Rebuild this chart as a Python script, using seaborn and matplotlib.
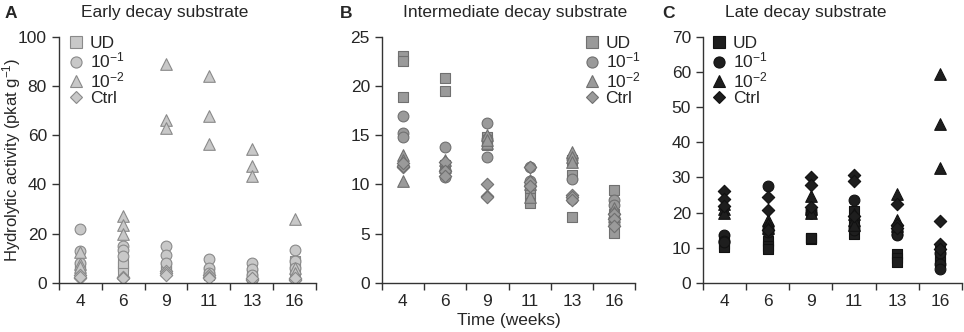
import numpy as np
import pandas as pd
import matplotlib
matplotlib.use('Agg')
import matplotlib.pyplot as plt
from matplotlib.lines import Line2D
from matplotlib.ticker import FixedLocator
import seaborn as sns

weeks = ["4", "6", "9", "11", "13", "16"]
treatments = ["UD", "10$^{-1}$", "10$^{-2}$", "Ctrl"]

# early decay substrate (panel A), three replicates per week
early_ud = [[6, 7, 5], [7, 5, 8], [6, 7, 5], [4, 5, 3], [3, 2, 4], [9, 8, 5]]
early_m1 = [[22, 13, 8], [15, 13.5, 11], [15, 11.5, 8], [9.5, 6, 4], [8, 5.5, 3], [13.5, 9, 6]]
early_m2 = [[12.5, 7.5, 6.5], [27, 23.5, 20], [89, 66, 63], [84, 68, 56.5], [54.5, 47.5, 43.5], [26, 6, 4]]
early_ctrl = [[3, 2, 2.5], [2.5, 2, 2], [5, 4, 3], [3, 2.5, 2], [1.5, 1, 2], [1.5, 1, 2]]

# intermediate decay substrate (panel B)
inter_ud = [[23.1, 22.5, 18.9], [20.8, 19.5, 12.0], [14.8, 14.0, 14.5], [9.1, 8.1, 9.6], [12.5, 11.0, 6.7], [9.4, 7.0, 5.1]]
inter_m1 = [[17.0, 15.2, 14.8], [13.8, 11.5, 10.8], [16.2, 14.6, 12.8], [11.8, 10.4, 9.9], [12.6, 10.6, 8.5], [8.4, 7.9, 6.0]]
inter_m2 = [[13.0, 12.5, 10.4], [12.5, 12.0, 11.8], [15.0, 14.2, 14.5], [10.5, 10.0, 8.7], [13.3, 12.8, 12.3], [7.6, 7.2, 6.8]]
inter_ctrl = [[11.8, 11.9, 12.2], [12.3, 11.4, 10.9], [10.0, 8.8, 8.7], [11.8, 10.2, 9.8], [8.9, 8.7, 8.4], [7.0, 6.5, 5.8]]

# late decay substrate (panel C)
late_ud = [[12.5, 11.0, 10.2], [12.0, 10.5, 9.7], [12.7, 12.5, 12.9], [20.4, 17.8, 14.0], [8.3, 7.0, 6.0], [9.0, 7.5, 6.0]]
late_m1 = [[13.5, 12.0, 11.5], [27.5, 14.4, 16.0], [20.6, 20.0, 19.8], [23.7, 16.0, 15.0], [15.0, 14.0, 13.5], [8.5, 5.5, 4.0]]
late_m2 = [[22.5, 21.0, 20.0], [17.8, 16.8, 15.5], [24.6, 21.0, 19.8], [19.5, 18.0, 16.5], [25.3, 17.8, 16.3], [59.3, 45.3, 32.6]]
late_ctrl = [[26.0, 24.0, 22.0], [24.4, 20.6, 15.0], [30.0, 27.9, 21.5], [30.7, 29.1, 19.0], [22.5, 16.5, 15.5], [17.6, 11.1, 9.5]]


def to_long(series):
    rows = []
    for trt, vals in zip(treatments, series):
        for wk, reps in zip(weeks, vals):
            for v in reps:
                rows.append({"week": wk, "treatment": trt, "activity": v})
    return pd.DataFrame(rows)


sns.set_style("ticks")
plt.rcParams['font.family'] = ['Liberation Sans', 'DejaVu Sans']
plt.rcParams['mathtext.default'] = 'regular'

markers = {"UD": "s", "10$^{-1}$": "o", "10$^{-2}$": "^", "Ctrl": "D"}
sizes = {"s": 55, "o": 60, "^": 70, "D": 40}

panels = [
    ("A", "Early decay substrate", [early_ud, early_m1, early_m2, early_ctrl],
     100, 20, "#c8c8c8", "#8a8a8a", "upper left", (0.04, 1.005)),
    ("B", "Intermediate decay substrate", [inter_ud, inter_m1, inter_m2, inter_ctrl],
     25, 5, "#9a9a9a", "#707070", "upper right", (1.02, 1.005)),
    ("C", "Late decay substrate", [late_ud, late_m1, late_m2, late_ctrl],
     70, 10, "#1e1e1e", "#111111", "upper left", (0.035, 1.005)),
]
positions = [[0.061, 0.148, 0.267, 0.741],
             [0.396, 0.148, 0.263, 0.741],
             [0.729, 0.148, 0.269, 0.741]]
letter_x = [5, 340, 662]
title_x = [81, 403, 725]

fig = plt.figure(figsize=(9.64, 3.32), dpi=100)

for i, (letter, title, series, ymax, ystep, fill, edge, loc, anchor) in enumerate(panels):
    ax = fig.add_axes(positions[i])
    df = to_long(series)
    for trt in treatments:
        sub = df[df["treatment"] == trt]
        m = markers[trt]
        sns.scatterplot(data=sub, x="week", y="activity", marker=m, s=sizes[m],
                        color=fill, edgecolor=edge, linewidth=0.8, ax=ax, legend=False)
    ax.set_xlim(-0.5, len(weeks) - 0.5)
    ax.set_ylim(0, ymax)
    ax.set_yticks(np.arange(0, ymax + 1, ystep))
    ax.xaxis.set_minor_locator(FixedLocator(np.arange(-0.5, len(weeks), 1.0)))
    ax.tick_params(axis="x", which="major", length=0, labelsize=12.5, pad=8)
    ax.tick_params(axis="x", which="minor", length=5, width=1, color="#333333")
    ax.tick_params(axis="y", length=5, width=1, color="#333333", labelsize=12.5)
    for s in ["left", "bottom"]:
        ax.spines[s].set_color("#333333")
        ax.spines[s].set_linewidth(1)
    sns.despine(ax=ax)
    ax.set_xlabel("Time (weeks)" if letter == "B" else "", fontsize=12.5, labelpad=3)
    if letter == "A":
        ax.set_ylabel("Hydrolytic activity (pkat g$^{-1}$)", fontsize=12)
        ax.yaxis.set_label_coords(-0.14, 0.5)
    else:
        ax.set_ylabel("")

    handles = [Line2D([], [], linestyle="none", marker=markers[t], markersize=8 if markers[t] != "D" else 6.5,
                      markerfacecolor=fill, markeredgecolor=edge, markeredgewidth=0.8)
               for t in treatments]
    ax.legend(handles, treatments, loc=loc, bbox_to_anchor=anchor, frameon=False, fontsize=12.5,
              handlelength=0.8, handletextpad=0.4, labelspacing=0.0,
              borderaxespad=0.0, borderpad=0.0)

    fig.text(letter_x[i] / 964, 1 - 13 / 332, letter, fontsize=12.5, fontweight="bold", va="center")
    fig.text(title_x[i] / 964, 1 - 13 / 332, title, fontsize=12.5, va="center")

fig.savefig("out.png", dpi=100)
